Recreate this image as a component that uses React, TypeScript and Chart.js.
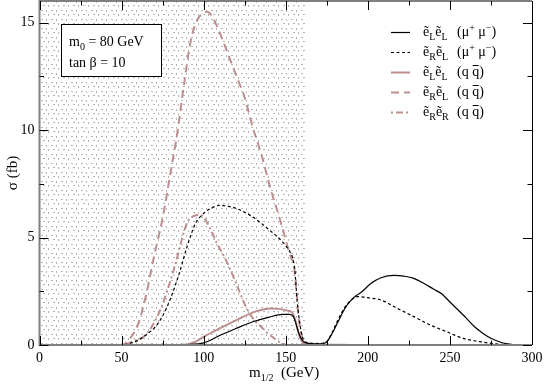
import React, { useEffect, useRef } from 'react';
import { Chart, registerables } from 'chart.js';
Chart.register(...registerables);

// ---------- data ----------
const xTicks = [0, 50, 100, 150, 200, 250, 300];
const yTicks = [0, 5, 10, 15];
const xMinorStep = 25;
const yMinorStep = 2.5;
const excludedMax = 162; // hatched region m_1/2 < 162 GeV

const seriesNames = ['eLeL_mumu', 'eReL_mumu', 'eLeL_qq', 'eReL_qq', 'eReR_qq'];

// ~e_L ~e_L (mu+ mu-)
const eLeLmuX = [25, 50, 80, 90, 100, 110, 120, 130, 140, 148, 152, 154.5, 156, 157.5, 159, 161, 163, 166, 170, 173, 175, 178, 182, 186, 190, 193, 196, 202, 208, 216, 222, 228, 234, 240, 245, 250, 255, 260, 265, 270, 275, 280, 285, 290];
const eLeLmuY = [0, 0, 0, 0.02, 0.1, 0.45, 0.78, 1.08, 1.3, 1.42, 1.42, 1.35, 1.05, 0.65, 0.35, 0.15, 0.09, 0.06, 0.05, 0.07, 0.15, 0.5, 1.1, 1.7, 2.1, 2.3, 2.45, 2.87, 3.13, 3.24, 3.2, 3.1, 2.87, 2.6, 2.38, 2.0, 1.63, 1.25, 0.85, 0.55, 0.31, 0.15, 0.05, 0];

// ~e_R ~e_L (mu+ mu-)
const eReLmuX = [25, 50, 55, 60, 65, 70, 75, 80, 85, 90, 95, 100, 105, 110, 115, 120, 130, 140, 148, 152, 154, 155.5, 157, 159, 161, 164, 168, 172, 175, 178, 182, 186, 190, 194, 200, 208, 218, 228, 238, 248, 258, 268, 278, 288];
const eReLmuY = [0, 0, 0.08, 0.22, 0.48, 0.8, 1.35, 2.2, 3.3, 4.6, 5.65, 6.12, 6.38, 6.5, 6.45, 6.35, 5.95, 5.35, 4.8, 4.4, 4.1, 3.5, 2.0, 0.8, 0.2, 0.1, 0.07, 0.08, 0.15, 0.55, 1.2, 1.75, 2.1, 2.25, 2.2, 2.09, 1.7, 1.32, 0.93, 0.62, 0.31, 0.16, 0.05, 0];

// ~e_L ~e_L (q qbar)
const eLeLqqX = [25, 50, 85, 90, 95, 100, 110, 120, 130, 135, 141, 146, 151, 154, 156, 158, 160, 163, 170, 180, 190, 200];
const eLeLqqY = [0, 0, 0, 0.02, 0.15, 0.38, 0.78, 1.16, 1.52, 1.63, 1.7, 1.68, 1.6, 1.5, 1.1, 0.5, 0.15, 0.05, 0.02, 0.01, 0, 0];

// ~e_R ~e_L (q qbar)
const eReLqqX = [25, 50, 55, 60, 65, 70, 75, 80, 84, 88, 92, 96, 100, 102, 105, 108, 112, 116, 120, 125, 130, 135, 141, 147, 151, 153, 155, 156.5, 158, 160, 162, 165, 168];
const eReLqqY = [0, 0, 0.3, 0.95, 2.35, 4.2, 5.9, 8.1, 9.9, 12.1, 14.1, 15.1, 15.45, 15.5, 15.3, 14.85, 14.1, 13.3, 12.5, 11.5, 10.1, 8.9, 7.2, 5.7, 4.6, 4.1, 3.7, 2.5, 1.2, 0.35, 0.1, 0.03, 0];

// ~e_R ~e_R (q qbar)
const eReRqqX = [25, 50, 53, 58, 63.5, 68, 71.7, 75, 78, 81, 84, 87, 90, 94, 98, 102, 108, 114.5, 120.6, 126.7, 131, 135, 139, 143, 147, 150, 152];
const eReRqqY = [0, 0, 0.05, 0.2, 0.39, 0.8, 1.32, 1.9, 2.56, 3.3, 4.1, 5.0, 5.7, 6.0, 6.05, 5.7, 4.75, 3.8, 2.71, 1.63, 1.15, 0.85, 0.55, 0.31, 0.1, 0.02, 0];

const PINK = '#bc8f8f';
const SERIF = '"Liberation Serif", "DejaVu Serif", serif';

function pts(xs: number[], ys: number[]) {
  return xs.map((x, i) => ({ x, y: ys[i] }));
}

type Part = { t: string; s: number; dy?: number; x?: number; bar?: boolean };

function drawRich(ctx: CanvasRenderingContext2D, x0: number, y: number, parts: Part[]) {
  let x = x0;
  for (const p of parts) {
    if (p.x !== undefined) x = x0 + p.x;
    ctx.font = `${p.s}px ${SERIF}`;
    ctx.fillText(p.t, x, y + (p.dy || 0));
    const w = ctx.measureText(p.t).width;
    if (p.bar) {
      ctx.save();
      ctx.lineWidth = 1;
      ctx.strokeStyle = '#000';
      ctx.beginPath();
      ctx.moveTo(x + w - 6.5, y - 10.5);
      ctx.lineTo(x + w - 0.5, y - 10.5);
      ctx.stroke();
      ctx.restore();
    }
    x += w;
  }
}

const sub = (t: string): Part => ({ t, s: 10, dy: 4 });
const sup = (t: string): Part => ({ t, s: 10, dy: -5 });
const big = (t: string, x?: number): Part => ({ t, s: 14, x });

const legendParts: Part[][] = [
  [big('ẽ'), sub('L'), big('ẽ'), sub('L'), big('(μ', 34), sup('+'), big(' μ'), sup('−'), big(')')],
  [big('ẽ'), sub('R'), big('ẽ'), sub('L'), big('(μ', 34), sup('+'), big(' μ'), sup('−'), big(')')],
  [big('ẽ'), sub('L'), big('ẽ'), sub('L'), big('(q ', 34), { t: 'q', s: 14, bar: true }, big(')')],
  [big('ẽ'), sub('R'), big('ẽ'), sub('L'), big('(q ', 34), { t: 'q', s: 14, bar: true }, big(')')],
  [big('ẽ'), sub('R'), big('ẽ'), sub('R'), big('(q ', 34), { t: 'q', s: 14, bar: true }, big(')')],
];

const overlay = {
  id: 'overlay',
  beforeDatasetsDraw(chart: any) {
    const { ctx, chartArea, scales } = chart;
    const { left, top, bottom } = chartArea;
    const pc = document.createElement('canvas');
    pc.width = 10;
    pc.height = 9;
    const p = pc.getContext('2d')!;
    p.fillStyle = '#b4b4b4';
    p.fillRect(1, 1, 2, 1);
    p.fillRect(6, 1, 1, 2);
    p.fillRect(3, 5, 2, 1);
    p.fillRect(8, 5, 1, 2);
    const pat = ctx.createPattern(pc, 'repeat');
    ctx.save();
    ctx.fillStyle = pat;
    const xr = scales.x.getPixelForValue(excludedMax);
    ctx.fillRect(left, top, xr - left, bottom - top);
    ctx.restore();
  },
  afterDatasetsDraw(chart: any) {
    const { ctx, chartArea, scales } = chart;
    const { left, right, top, bottom } = chartArea;
    const xs = scales.x;
    const ys = scales.y;
    ctx.save();
    // frame
    ctx.strokeStyle = '#808080';
    ctx.lineWidth = 2;
    ctx.beginPath();
    ctx.moveTo(right, top);
    ctx.lineTo(left, top);
    ctx.lineTo(left, bottom);
    ctx.lineTo(right, bottom);
    ctx.stroke();
    ctx.strokeStyle = '#000';
    ctx.lineWidth = 1;
    ctx.beginPath();
    ctx.moveTo(Math.round(right) + 0.5, top);
    ctx.lineTo(Math.round(right) + 0.5, bottom);
    ctx.stroke();

    // ticks
    ctx.strokeStyle = '#000';
    ctx.lineWidth = 1;
    ctx.beginPath();
    for (let v = 0; v <= 300; v += xMinorStep) {
      const px = Math.round(xs.getPixelForValue(v)) + 0.5;
      const len = v % 50 === 0 ? 9 : 4.5;
      ctx.moveTo(px, bottom);
      ctx.lineTo(px, bottom - len);
      ctx.moveTo(px, top);
      ctx.lineTo(px, top + len);
    }
    for (let v = 0; v <= 16; v += yMinorStep) {
      const py = Math.round(ys.getPixelForValue(v)) + 0.5;
      const len = v % 5 === 0 ? 9 : 4.5;
      ctx.moveTo(left, py);
      ctx.lineTo(left + len, py);
      ctx.moveTo(right, py);
      ctx.lineTo(right - len, py);
    }
    ctx.stroke();

    // info box
    ctx.fillStyle = '#fff';
    ctx.fillRect(61.5, 24.5, 100, 52);
    ctx.strokeStyle = '#000';
    ctx.lineWidth = 1;
    ctx.strokeRect(61.5, 24.5, 100, 52);
    ctx.fillStyle = '#000';
    ctx.textAlign = 'left';
    ctx.textBaseline = 'alphabetic';
    drawRich(ctx, 69, 46, [big('m'), sub('0'), big(' = 80 GeV')]);
    drawRich(ctx, 69, 67, [big('tan β = 10')]);

    // legend
    const rows = [32.5, 52.5, 72.5, 92.5, 112.5];
    chart.data.datasets.forEach((ds: any, i: number) => {
      const yy = rows[i];
      ctx.save();
      ctx.strokeStyle = ds.borderColor;
      ctx.lineWidth = ds.borderWidth;
      ctx.setLineDash(ds.borderDash || []);
      ctx.lineDashOffset = ds.legendDashOffset || 0;
      ctx.beginPath();
      ctx.moveTo(391, yy);
      ctx.lineTo(410, yy);
      ctx.stroke();
      ctx.restore();
      ctx.fillStyle = '#000';
      drawRich(ctx, 423, yy + 3.5, legendParts[i]);
    });

    // axis titles
    ctx.fillStyle = '#000';
    drawRich(ctx, 249, 377, [{ t: 'm', s: 15 }, { t: '1/2', s: 10, dy: 4 }, { t: '  (GeV)', s: 15 }]);
    ctx.save();
    ctx.translate(17, 173);
    ctx.rotate(-Math.PI / 2);
    ctx.textAlign = 'center';
    ctx.font = `15px ${SERIF}`;
    ctx.fillText('σ (fb)', 0, 0);
    ctx.restore();
    ctx.restore();
  },
};

export default function App() {
  const ref = useRef<HTMLCanvasElement | null>(null);
  useEffect(() => {
    document.body.style.margin = '0';
    const canvas = ref.current!;
    const tickFont = { family: SERIF, size: 14 };
    const chart = new Chart(canvas, {
      type: 'scatter',
      data: {
        datasets: [
          { label: seriesNames[0], data: pts(eLeLmuX, eLeLmuY), borderColor: '#000', borderWidth: 1.2, borderDash: [] },
          { label: seriesNames[1], data: pts(eReLmuX, eReLmuY), borderColor: '#000', borderWidth: 1.2, borderDash: [3, 2.5] },
          { label: seriesNames[2], data: pts(eLeLqqX, eLeLqqY), borderColor: PINK, borderWidth: 2, borderDash: [] },
          { label: seriesNames[3], data: pts(eReLqqX, eReLqqY), borderColor: PINK, borderWidth: 2, borderDash: [8, 5] },
          { label: seriesNames[4], data: pts(eReRqqX, eReRqqY), borderColor: PINK, borderWidth: 2, borderDash: [7, 3, 2, 3], legendDashOffset: 10 } as any,
        ].map((d: any) => ({ ...d, showLine: true, pointRadius: 0, cubicInterpolationMode: 'monotone', fill: false })),
      },
      options: {
        animation: false,
        responsive: false,
        devicePixelRatio: 1,
        layout: { padding: { top: 1, right: 13, left: 0, bottom: 0 } },
        plugins: { legend: { display: false }, tooltip: { enabled: false } },
        scales: {
          x: {
            type: 'linear',
            min: 0,
            max: 300,
            afterFit: (s: any) => { s.height = 41; s.paddingLeft = 0; s.paddingRight = 0; s.paddingTop = 0; s.paddingBottom = 0; },
            afterBuildTicks: (s: any) => { s.ticks = xTicks.map((v) => ({ value: v })); },
            grid: { display: false, drawTicks: false },
            border: { display: false },
            ticks: { padding: 5, color: '#000', font: tickFont, maxRotation: 0, autoSkip: false },
          },
          y: {
            type: 'linear',
            min: 0,
            max: 16,
            afterFit: (s: any) => { s.width = 39.5; s.paddingTop = 0; s.paddingBottom = 0; s.paddingLeft = 0; s.paddingRight = 0; },
            afterBuildTicks: (s: any) => { s.ticks = yTicks.map((v) => ({ value: v })); },
            grid: { display: false, drawTicks: false },
            border: { display: false },
            ticks: { padding: 5, color: '#000', font: tickFont, autoSkip: false },
          },
        },
      },
      plugins: [overlay],
    } as any);
    return () => chart.destroy();
  }, []);
  return (
    <div style={{ position: 'absolute', left: 0, top: 0 }}>
      <canvas ref={ref} width={545} height={386} style={{ display: 'block', width: 545, height: 386 }} />
    </div>
  );
}
